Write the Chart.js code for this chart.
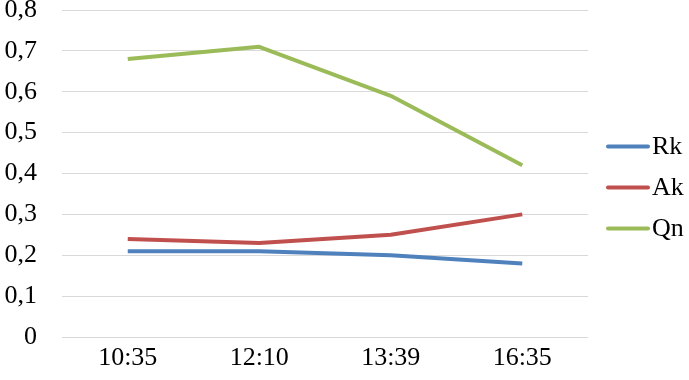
<!DOCTYPE html>
<html><head><meta charset="utf-8">
<script src="https://cdn.jsdelivr.net/npm/chart.js@4/dist/chart.umd.min.js"></script>
<style>html,body{margin:0;padding:0;background:#fff}#w{width:689px;height:380px}</style>
</head><body><div id="w"><canvas id="c"></canvas></div>
<script>
const categories = ["10:35", "12:10", "13:39", "16:35"];
const rk = [0.21, 0.21, 0.20, 0.18];
const ak = [0.24, 0.23, 0.25, 0.30];
const qn = [0.68, 0.71, 0.59, 0.42];
const yTicks = [0, 0.1, 0.2, 0.3, 0.4, 0.5, 0.6, 0.7, 0.8];
const seriesNames = ["Rk", "Ak", "Qn"];
const seriesColors = ["#4f81bd", "#c0504d", "#9bbb59"];

const FAMILY = "'Liberation Serif', 'Times New Roman', serif";
const font = {family: FAMILY, size: 26};

const sideLegend = {
  id: 'sideLegend',
  afterDraw(chart) {
    const ctx = chart.ctx;
    const area = chart.chartArea;
    const n = chart.data.datasets.length;
    const step = 41;
    const cy = (area.top + area.bottom) / 2 + 14;
    const x0 = area.right + 19;
    ctx.save();
    ctx.font = '26px ' + FAMILY;
    ctx.textBaseline = 'middle';
    ctx.fillStyle = '#000';
    chart.data.datasets.forEach((d, i) => {
      const y = cy + (i - (n - 1) / 2) * step;
      ctx.strokeStyle = d.borderColor;
      ctx.lineWidth = 4;
      ctx.lineCap = 'round';
      ctx.beginPath(); ctx.moveTo(x0 + 1, y); ctx.lineTo(x0 + 41, y); ctx.stroke();
      ctx.fillText(d.label, x0 + 45, y + 1);
    });
    ctx.restore();
  }
};

new Chart(document.getElementById('c'), {
  type: 'line',
  data: {
    labels: categories,
    datasets: seriesNames.map((name, i) => ({
      label: name,
      data: [rk, ak, qn][i],
      borderColor: seriesColors[i], backgroundColor: seriesColors[i],
      borderWidth: 4, borderJoinStyle: 'round', pointRadius: 0, tension: 0, fill: false
    }))
  },
  options: {
    responsive: true, maintainAspectRatio: false, animation: false,
    layout: {padding: {top: 10, right: 101, left: 0, bottom: 0}},
    plugins: {tooltip: {enabled: false}, legend: {display: false}},
    scales: {
      x: {
        offset: true,
        afterFit: (s) => { s.height = 43; s.paddingLeft = 0; s.paddingRight = 0; },
        grid: {display: false, drawTicks: false},
        border: {display: false},
        ticks: {font: font, color: '#000', padding: 6, maxRotation: 0}
      },
      y: {
        min: 0, max: 0.8,
        afterBuildTicks: (s) => { s.ticks = yTicks.map(v => ({value: v})); },
        afterFit: (s) => { s.width = 62; s.paddingTop = 0; s.paddingBottom = 0; },
        grid: {color: '#d9d9d9', drawTicks: false, lineWidth: 1},
        border: {display: false},
        ticks: {font: font, color: '#000', padding: 25,
          callback: (v) => String(Math.round(v * 10) / 10).replace('.', ',')}
      }
    }
  },
  plugins: [sideLegend]
});
</script></body></html>
